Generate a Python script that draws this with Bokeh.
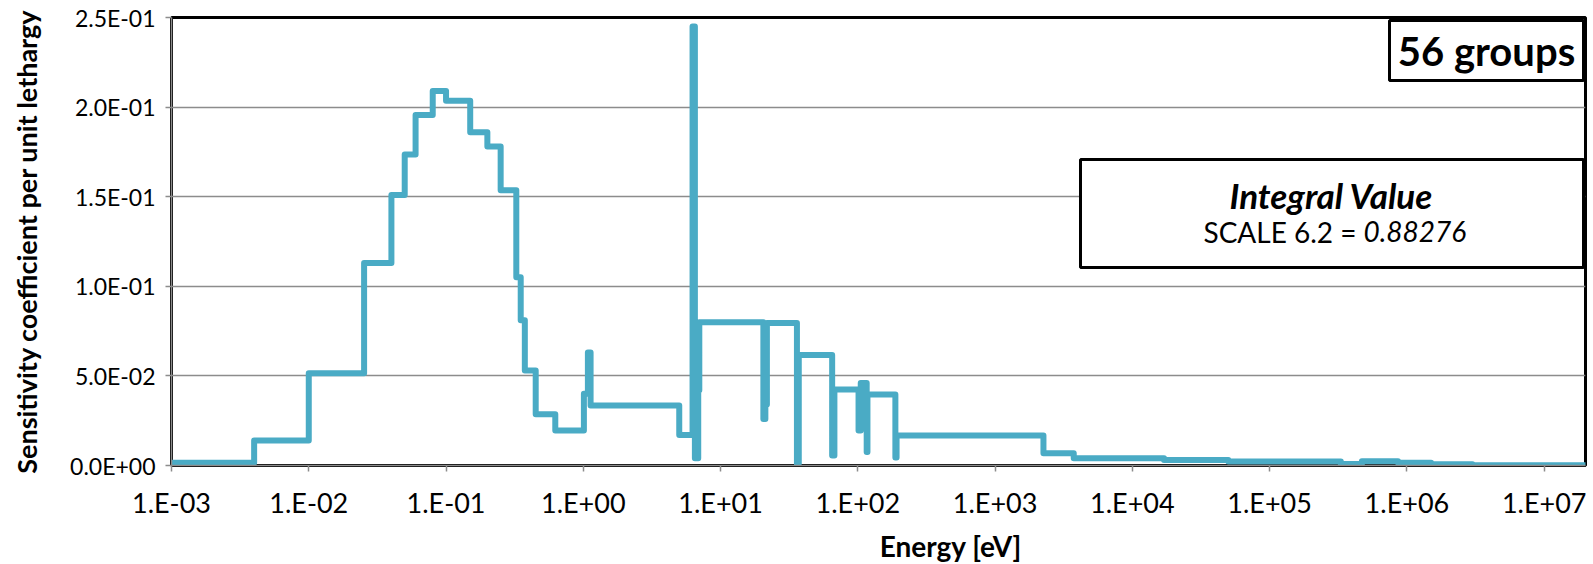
import numpy as np
from bokeh.plotting import figure
from bokeh.layouts import column
from bokeh.models import (Range1d, FixedTicker, CustomJSTickFormatter, Label,
                          BoxAnnotation)
from bokeh.core.properties import value
from bokeh.embed import file_html
from bokeh.resources import INLINE

# 56-group energy boundaries (eV), ascending
group_bounds = [
    1e-5, 4e-3, 1e-2, 2.53e-2, 4e-2, 5e-2, 6e-2, 8e-2, 0.1, 0.15, 0.2, 0.25,
    0.325, 0.35, 0.375, 0.45, 0.625, 1.01, 1.08, 1.13, 5.0, 6.25, 6.5, 6.875,
    7.0, 20.5, 21.2, 21.75, 36.0, 37.13, 65.0, 67.5, 101.2, 105.0, 116.0,
    117.5, 187.7, 191.5, 2.25e3, 3.74e3, 1.7e4, 2.0e4, 5.0e4, 2.0e5, 2.7e5,
    3.3e5, 4.7e5, 6.0e5, 7.5e5, 8.611e5, 1.2e6, 1.5e6, 1.85e6, 3.0e6,
    4.304e6, 6.434e6, 2.0e7,
]

# sensitivity coefficient per unit lethargy, one value per group (ascending energy)
sensitivity = [
    0.0015, 0.0140, 0.0515, 0.1130, 0.1510, 0.1736, 0.1956, 0.2090, 0.2035,
    0.1860, 0.1780, 0.1536, 0.1050, 0.0810, 0.0530, 0.0286, 0.0196, 0.0400,
    0.0630, 0.0335, 0.0170, 0.2450, 0.0040, 0.0420, 0.0800, 0.0260, 0.0340,
    0.0795, 0.0010, 0.0616, 0.0056, 0.0424, 0.0196, 0.0460, 0.0075, 0.0396,
    0.0045, 0.0168, 0.0068, 0.0040, 0.0030, 0.0030, 0.0022, 0.0022, 0.0022,
    0.0008, 0.0024, 0.0024, 0.0024, 0.0016, 0.0016, 0.0007, 0.0007, 0.0002,
    0.0002, 0.0001,
]

x_tick_values = [1e-3, 1e-2, 1e-1, 1e0, 1e1, 1e2, 1e3, 1e4, 1e5, 1e6, 1e7]
x_tick_labels = ["1.E-03", "1.E-02", "1.E-01", "1.E+00", "1.E+01", "1.E+02",
                 "1.E+03", "1.E+04", "1.E+05", "1.E+06", "1.E+07"]
y_tick_values = [0.0, 0.05, 0.10, 0.15, 0.20, 0.25]
y_tick_labels = ["0.0E+00", "5.0E-02", "1.0E-01", "1.5E-01", "2.0E-01", "2.5E-01"]

x_title = "Energy [eV]"
y_title = "Sensitivity coefficient per unit lethargy"
group_count_text = "56 groups"
integral_title = "Integral Value"
integral_code = "SCALE 6.2 ="
integral_value = "0.88276"

X_MIN, X_MAX = 1e-3, 2e7
Y_MIN, Y_MAX = 0.0, 0.25

W = 1593
H_MAIN, H_TITLE = 530, 34
BORDER_L, BORDER_R, BORDER_T, BORDER_B = 171, 8, 17, 65
FRAME_W = W - BORDER_L - BORDER_R
FRAME_H = H_MAIN - BORDER_T - BORDER_B

FONT = "Lato"
LINE_COLOR = "#4AABC5"


def canvas_x(px):
    """Canvas pixel column -> energy value on the log axis."""
    lo, hi = np.log10(X_MIN), np.log10(X_MAX)
    return 10 ** (lo + (px - BORDER_L) / FRAME_W * (hi - lo))


def canvas_y(py):
    """Canvas pixel row -> sensitivity value."""
    return Y_MAX - (py - BORDER_T) / FRAME_H * (Y_MAX - Y_MIN)


p = figure(width=W, height=H_MAIN, x_axis_type="log",
           x_range=Range1d(X_MIN, X_MAX), y_range=Range1d(Y_MIN, Y_MAX),
           output_backend="svg", toolbar_location=None,
           min_border_left=BORDER_L, min_border_right=BORDER_R,
           min_border_top=BORDER_T, min_border_bottom=BORDER_B)

p.background_fill_color = "white"
p.border_fill_color = "white"
p.outline_line_color = "black"
p.outline_line_width = 3

# horizontal gridlines only
p.xgrid.grid_line_color = None
p.ygrid.grid_line_color = "#8C8C8C"
p.ygrid.grid_line_width = 1.5

pick_label = """
let best = 0, dist = Infinity;
for (let i = 0; i < vals.length; i++) {
    const d = Math.abs(vals[i] - tick) / (Math.abs(vals[i]) + 1e-9);
    if (d < dist) { dist = d; best = i; }
}
return labels[best];
"""

p.xaxis.ticker = FixedTicker(ticks=x_tick_values)
p.xaxis.formatter = CustomJSTickFormatter(
    args=dict(vals=x_tick_values, labels=x_tick_labels), code=pick_label)
p.yaxis.ticker = FixedTicker(ticks=y_tick_values)
p.yaxis.formatter = CustomJSTickFormatter(
    args=dict(vals=y_tick_values, labels=y_tick_labels), code=pick_label)

for ax in (p.xaxis, p.yaxis):
    ax.axis_line_color = "#8C8C8C"
    ax.axis_line_width = 1.5
    ax.major_tick_line_color = "#8C8C8C"
    ax.major_tick_line_width = 1.5
    ax.major_tick_in = 0
    ax.major_tick_out = 6
    ax.minor_tick_line_color = None
    ax.major_label_text_font = FONT
    ax.major_label_text_color = "black"

p.xaxis.major_label_text_font_size = "27px"
p.yaxis.major_label_text_font_size = "23px"
p.xaxis.major_label_standoff = 14
p.yaxis.major_label_standoff = 10

p.yaxis.axis_label = y_title
p.yaxis.axis_label_text_font = FONT
p.yaxis.axis_label_text_font_style = "bold"
p.yaxis.axis_label_text_font_size = "27px"
p.yaxis.axis_label_text_color = "black"
p.yaxis.axis_label_standoff = 24

# group-wise sensitivity profile as a step line
step_x = group_bounds
step_y = sensitivity + [sensitivity[-1]]
p.step(step_x, step_y, mode="after", line_color=LINE_COLOR, line_width=6,
       line_join="round", line_cap="round")

# "56 groups" tag in the upper right corner
p.add_layout(BoxAnnotation(left=canvas_x(1389), right=canvas_x(1583),
                           top=canvas_y(20), bottom=canvas_y(80),
                           fill_color="white", fill_alpha=1.0,
                           line_color="black", line_alpha=1.0, line_width=3))
p.add_layout(Label(x=canvas_x(1486), y=canvas_y(50), text=group_count_text,
                   text_align="center", text_baseline="middle",
                   text_font=FONT, text_font_style="bold",
                   text_font_size="40px", text_color="black"))

# integral value box
p.add_layout(BoxAnnotation(left=canvas_x(1080), right=canvas_x(1583),
                           top=canvas_y(159), bottom=canvas_y(267),
                           fill_color="white", fill_alpha=1.0,
                           line_color="black", line_alpha=1.0, line_width=3))
p.add_layout(Label(x=canvas_x(1331), y=canvas_y(194), text=integral_title,
                   text_align="center", text_baseline="middle",
                   text_font=FONT, text_font_style="bold italic",
                   text_font_size="35px", text_color="black"))
p.add_layout(Label(x=canvas_x(1356), y=canvas_y(231), text=integral_code,
                   text_align="right", text_baseline="middle",
                   text_font=FONT, text_font_style="normal",
                   text_font_size="28px", text_color="black"))
p.add_layout(Label(x=canvas_x(1363), y=canvas_y(231), text=integral_value,
                   text_align="left", text_baseline="middle",
                   text_font=FONT, text_font_style="italic",
                   text_font_size="28px", text_color="black"))

# strip underneath carrying the energy-axis title, centred under the frame
t = figure(width=W, height=H_TITLE, x_range=Range1d(0, W),
           y_range=Range1d(0, H_TITLE), output_backend="svg",
           toolbar_location=None, x_axis_location=None, y_axis_location=None,
           min_border=0)
t.outline_line_color = None
t.grid.visible = False
t.background_fill_color = "white"
t.border_fill_color = "white"
t.text(x=[BORDER_L + FRAME_W / 2], y=[19], text=[x_title],
       text_align="center", text_baseline="middle",
       text_font=value(FONT), text_font_style="bold",
       text_font_size="28px", text_color="black")

layout = column(p, t, spacing=0)
open("out.html", "w").write(file_html(layout, INLINE))
